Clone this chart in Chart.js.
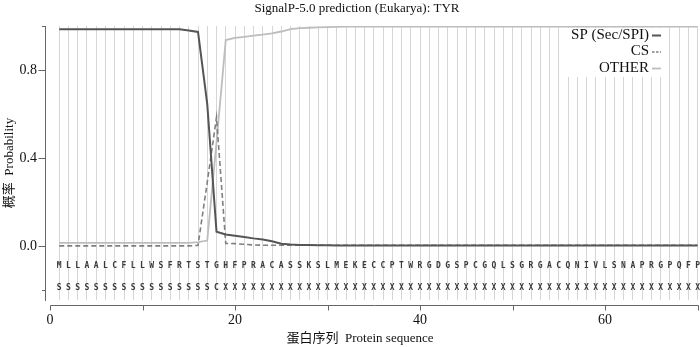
<!DOCTYPE html>
<html><head><meta charset="utf-8">
<script src="https://cdn.jsdelivr.net/npm/chart.js@4.4.0/dist/chart.umd.min.js"></script>
<style>html,body{margin:0;padding:0;background:#fff}#wrap{width:700px;height:347px;position:relative}</style>
</head><body><div id="wrap"><canvas id="c"></canvas></div>
<script>
// ---------- data ----------
const titleText = 'SignalP-5.0 prediction (Eukarya): TYR';
const xAxisTitle = '蛋白序列  Protein sequence';
const yAxisTitle = '概率  Probability';
const seriesNames = ['SP (Sec/SPI)', 'CS', 'OTHER'];

const positions = [1,2,3,4,5,6,7,8,9,10,11,12,13,14,15,16,17,18,19,20,
  21,22,23,24,25,26,27,28,29,30,31,32,33,34,35,36,37,38,39,40,
  41,42,43,44,45,46,47,48,49,50,51,52,53,54,55,56,57,58,59,60,
  61,62,63,64,65,66,67,68,69,70];

const residues = ['M','L','L','A','A','L','C','F','L','L','W','S','F','R','T','S','T','G','H','F',
  'P','R','A','C','A','S','S','K','S','L','M','E','K','E','C','C','P','T','W','R',
  'G','D','G','S','P','C','G','Q','L','S','G','R','G','A','C','Q','N','I','V','L',
  'S','N','A','P','R','G','P','Q','F','P'];

const predLabels = ['S','S','S','S','S','S','S','S','S','S','S','S','S','S','S','S','S','C','X','X',
  'X','X','X','X','X','X','X','X','X','X','X','X','X','X','X','X','X','X','X','X',
  'X','X','X','X','X','X','X','X','X','X','X','X','X','X','X','X','X','X','X','X',
  'X','X','X','X','X','X','X','X','X','X'];

const spValues = [0.985,0.985,0.985,0.985,0.985,0.985,0.985,0.985,0.985,0.985,
  0.985,0.985,0.985,0.985,0.98,0.973,0.645,0.065,0.053,0.047,
  0.041,0.035,0.03,0.022,0.011,0.007,0.005,0.005,0.004,0.004,
  0.003,0.003,0.003,0.003,0.003,0.003,0.003,0.003,0.003,0.003,
  0.003,0.003,0.003,0.003,0.003,0.003,0.003,0.003,0.003,0.003,
  0.003,0.003,0.003,0.003,0.003,0.003,0.003,0.003,0.003,0.003,
  0.003,0.003,0.003,0.003,0.003,0.003,0.003,0.003,0.003,0.003];

const csValues = [0.001,0.001,0.001,0.001,0.001,0.001,0.001,0.001,0.001,0.001,
  0.001,0.001,0.001,0.001,0.001,0.003,0.29,0.585,0.012,0.011,
  0.008,0.005,0.004,0.004,0.004,0.004,0.004,0.004,0.004,0.004,
  0.004,0.004,0.004,0.004,0.004,0.004,0.004,0.004,0.004,0.004,
  0.004,0.004,0.004,0.004,0.004,0.004,0.004,0.004,0.004,0.004,
  0.004,0.004,0.004,0.004,0.004,0.004,0.004,0.004,0.004,0.004,
  0.004,0.004,0.004,0.004,0.004,0.004,0.004,0.004,0.004,0.004];

const otherValues = [0.015,0.015,0.015,0.015,0.015,0.015,0.015,0.015,0.015,0.015,
  0.015,0.015,0.015,0.015,0.015,0.018,0.025,0.47,0.936,0.946,
  0.951,0.956,0.961,0.966,0.975,0.986,0.99,0.992,0.994,0.995,
  0.996,0.997,0.997,0.997,0.997,0.997,0.997,0.997,0.997,0.997,
  0.997,0.997,0.997,0.997,0.997,0.997,0.997,0.997,0.997,0.997,
  0.997,0.997,0.997,0.997,0.997,0.997,0.997,0.997,0.997,0.997,
  0.997,0.997,0.997,0.997,0.997,0.997,0.997,0.997,0.997,0.997];

const xTicks = [0,10,20,30,40,50,60,70];
const xTickLabels = ['0','','20','','40','','60',''];
const yTicks = [-0.2,0,0.4,0.8,1.0];
const yTickLabels = ['','0.0','0.4','0.8',''];

// ---------- style ----------
const SERIF = "'Liberation Serif','Times New Roman','Noto Sans CJK SC',serif";
const AXIS = '#666666';
const COLORS = {sp:'#555555', cs:'#7f7f7f', other:'#bdbdbd'};
const ROW1 = -0.089, ROW2 = -0.19;   // y-levels of the residue rows
const X_AXIS_GAP = 5;

const decor = {
  id: 'decor',
  beforeDatasetsDraw(chart) {
    const ctx = chart.ctx;
    ctx.save();
    ctx.fillStyle = '#ffffff';
    ctx.fillRect(567, 28, 97, 49);
    ctx.restore();
  },
  afterDatasetsDraw(chart) {
    const {ctx, scales: {x, y}} = chart;
    ctx.save();
    ctx.font = "bold 8px 'DejaVu Sans Mono', monospace";
    ctx.fillStyle = '#3a3a3a';
    ctx.textAlign = 'center';
    ctx.textBaseline = 'middle';
    const r1 = y.getPixelForValue(ROW1), r2 = y.getPixelForValue(ROW2);
    positions.forEach((p, i) => {
      const xp = x.getPixelForValue(p);
      ctx.fillText(residues[i], xp, r1);
      ctx.fillText(predLabels[i], xp, r2);
    });
    // legend
    const rows = [35, 51.5, 68];
    ctx.font = '15px ' + SERIF;
    ctx.textAlign = 'right';
    ctx.fillStyle = '#111';
    chart.data.datasets.forEach((ds, i) => {
      ctx.fillText(ds.label, 649, rows[i]);
      ctx.save();
      ctx.strokeStyle = ds.borderColor;
      ctx.lineWidth = ds.borderWidth;
      ctx.setLineDash(ds.borderDash ? [2.5, 1.5] : []);
      ctx.beginPath();
      ctx.moveTo(652, rows[i] + 0.5);
      ctx.lineTo(661, rows[i] + 0.5);
      ctx.stroke();
      ctx.restore();
    });
    ctx.restore();
  },
  afterDraw(chart) {
    const {ctx, chartArea, scales: {x, y}} = chart;
    ctx.save();
    ctx.strokeStyle = AXIS;
    ctx.lineWidth = 1;
    // x axis
    const ya = Math.round(chartArea.bottom + X_AXIS_GAP) + 0.5;
    ctx.beginPath();
    ctx.moveTo(Math.round(x.getPixelForValue(xTicks[0])) + 0.5, ya);
    ctx.lineTo(Math.round(x.getPixelForValue(xTicks[xTicks.length - 1])) + 0.5, ya);
    xTicks.forEach(v => {
      const xp = Math.round(x.getPixelForValue(v)) + 0.5;
      ctx.moveTo(xp, ya); ctx.lineTo(xp, ya + 5);
    });
    ctx.stroke();
    // y axis ticks
    const xa = Math.round(chartArea.left) + 0.5;
    ctx.beginPath();
    yTicks.forEach((v, i) => {
      const yp = Math.round(y.getPixelForValue(v)) + 0.5;
      const len = yTickLabels[i] ? 7 : 3.5;
      ctx.moveTo(xa, yp); ctx.lineTo(xa - len, yp);
    });
    ctx.stroke();
    // titles
    ctx.fillStyle = '#111';
    ctx.textAlign = 'center';
    ctx.textBaseline = 'middle';
    ctx.font = '13px ' + SERIF;
    ctx.fillText(titleText, 357, 9);
    ctx.fillText(xAxisTitle, 360, 339);
    ctx.translate(10, 163);
    ctx.rotate(-Math.PI / 2);
    ctx.fillText(yAxisTitle, 0, 0);
    ctx.restore();
  }
};

const mk = (vals) => positions.map((p, i) => ({x: p, y: vals[i]}));

new Chart(document.getElementById('c'), {
  type: 'line',
  data: {
    datasets: [
      {label: seriesNames[0], data: mk(spValues), borderColor: COLORS.sp, borderWidth: 2, pointRadius: 0, tension: 0, fill: false},
      {label: seriesNames[1], data: mk(csValues), borderColor: COLORS.cs, borderWidth: 1.6, borderDash: [5, 3], pointRadius: 0, tension: 0, fill: false},
      {label: seriesNames[2], data: mk(otherValues), borderColor: COLORS.other, borderWidth: 1.8, pointRadius: 0, tension: 0, fill: false}
    ]
  },
  options: {
    responsive: true,
    maintainAspectRatio: false,
    animation: false,
    devicePixelRatio: 1,
    layout: {padding: {top: 26, right: 2, left: 0, bottom: 0}},
    plugins: {legend: {display: false}, title: {display: false}, tooltip: {enabled: false}},
    scales: {
      x: {
        type: 'linear',
        min: -0.54, max: 70.05,
        afterBuildTicks: (s) => { s.ticks = [0].concat(positions).map(v => ({value: v})); },
        afterFit: (s) => { s.height = 47; },
        border: {display: false},
        grid: {
          drawOnChartArea: true, drawTicks: true, tickLength: 10,
          tickColor: 'rgba(0,0,0,0)',
          color: (c) => (c.tick && c.tick.value >= 1) ? '#d6d6d6' : 'rgba(0,0,0,0)',
          lineWidth: 1
        },
        ticks: {
          autoSkip: false, maxRotation: 0, minRotation: 0, padding: 2,
          color: '#111', font: {family: SERIF, size: 14},
          callback: (v) => { const k = xTicks.indexOf(v); return k >= 0 ? xTickLabels[k] : ''; }
        }
      },
      y: {
        type: 'linear',
        min: -0.245, max: 1.0,
        afterBuildTicks: (s) => { s.ticks = yTicks.map(v => ({value: v})); },
        afterFit: (s) => { s.width = 45; },
        border: {display: true, color: AXIS, width: 1},
        grid: {drawOnChartArea: false, drawTicks: true, tickLength: 7, tickColor: 'rgba(0,0,0,0)'},
        ticks: {
          padding: 1, color: '#111', font: {family: SERIF, size: 14},
          callback: (v) => { const k = yTicks.findIndex(t => Math.abs(t - v) < 1e-9); return k >= 0 ? yTickLabels[k] : ''; }
        }
      }
    }
  },
  plugins: [decor]
});
</script>
</body></html>
